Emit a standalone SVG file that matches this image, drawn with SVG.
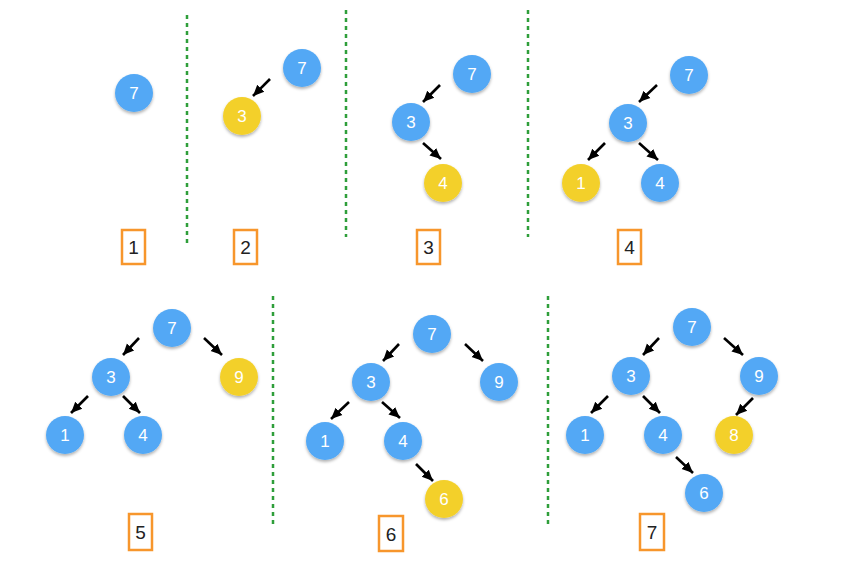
<svg xmlns="http://www.w3.org/2000/svg" width="867" height="578" viewBox="0 0 867 578">
<defs>
<filter id="sh" x="-30%" y="-30%" width="160%" height="170%">
<feDropShadow dx="0" dy="2" stdDeviation="1.5" flood-color="#000" flood-opacity="0.3"/>
</filter>
<marker id="ah" markerUnits="userSpaceOnUse" markerWidth="12" markerHeight="12" viewBox="0 0 12 12" refX="11" refY="6" orient="auto">
<path d="M0,1 L11,6 L0,11 Z" fill="#000"/>
</marker>
<style>
.b{fill:#52A8F5;filter:url(#sh)}
.y{fill:#F3D02B;filter:url(#sh)}
.t{font-family:"Liberation Sans",Arial,sans-serif;font-size:17px;fill:#fff;text-anchor:middle}
.e{stroke:#000;stroke-width:2.6;fill:none;marker-end:url(#ah)}
.d{stroke:#2E9E3A;stroke-width:2.5;stroke-dasharray:4 4;fill:none}
.bx{fill:#fff;stroke:#F7962C;stroke-width:2.5}
.l{font-family:"Liberation Sans",Arial,sans-serif;font-size:19px;fill:#222;text-anchor:middle}
</style>
</defs>
<rect width="867" height="578" fill="#fff"/>
<g id="dividers">
<line class="d" x1="187" y1="15" x2="187" y2="243"/>
<line class="d" x1="346" y1="10" x2="346" y2="237"/>
<line class="d" x1="528" y1="10" x2="528" y2="237"/>
<line class="d" x1="273" y1="296" x2="273" y2="525"/>
<line class="d" x1="548" y1="296" x2="548" y2="525"/>
</g>
<g id="connectors">
<line class="e" x1="270" y1="79" x2="253" y2="96"/>
<line class="e" x1="440" y1="85" x2="423" y2="102"/>
<line class="e" x1="423" y1="143" x2="441" y2="159"/>
<line class="e" x1="657" y1="85" x2="639" y2="102"/>
<line class="e" x1="605" y1="143" x2="588" y2="160"/>
<line class="e" x1="639" y1="143" x2="658" y2="160"/>
<line class="e" x1="139" y1="338" x2="123" y2="355"/>
<line class="e" x1="204" y1="338" x2="222" y2="355"/>
<line class="e" x1="88" y1="396" x2="71" y2="413"/>
<line class="e" x1="123" y1="396" x2="140" y2="413"/>
<line class="e" x1="399" y1="344" x2="383" y2="361"/>
<line class="e" x1="465" y1="344" x2="483" y2="361"/>
<line class="e" x1="349" y1="402" x2="331" y2="419"/>
<line class="e" x1="382" y1="402" x2="400" y2="418"/>
<line class="e" x1="416" y1="464" x2="433" y2="481"/>
<line class="e" x1="659" y1="338" x2="643" y2="355"/>
<line class="e" x1="724" y1="338" x2="743" y2="355"/>
<line class="e" x1="608" y1="396" x2="591" y2="413"/>
<line class="e" x1="643" y1="396" x2="660" y2="413"/>
<line class="e" x1="753" y1="398" x2="736" y2="415"/>
<line class="e" x1="676" y1="457" x2="693" y2="473"/>
</g>
<g id="p1n7"><circle class="b" cx="134" cy="93" r="19"/><text class="t" x="134" y="99">7</text></g>
<g id="p2n7"><circle class="b" cx="302" cy="68" r="19"/><text class="t" x="302" y="74">7</text></g>
<g id="p2n3"><circle class="y" cx="242" cy="116" r="19"/><text class="t" x="242" y="122">3</text></g>
<g id="p3n7"><circle class="b" cx="472" cy="74" r="19"/><text class="t" x="472" y="80">7</text></g>
<g id="p3n3"><circle class="b" cx="411" cy="122" r="19"/><text class="t" x="411" y="128">3</text></g>
<g id="p3n4"><circle class="y" cx="443" cy="183" r="19"/><text class="t" x="443" y="189">4</text></g>
<g id="p4n7"><circle class="b" cx="689" cy="75" r="19"/><text class="t" x="689" y="81">7</text></g>
<g id="p4n3"><circle class="b" cx="628" cy="123" r="19"/><text class="t" x="628" y="129">3</text></g>
<g id="p4n1"><circle class="y" cx="581" cy="183" r="19"/><text class="t" x="581" y="189">1</text></g>
<g id="p4n4"><circle class="b" cx="660" cy="183" r="19"/><text class="t" x="660" y="189">4</text></g>
<g id="p5n7"><circle class="b" cx="172" cy="328" r="19"/><text class="t" x="172" y="334">7</text></g>
<g id="p5n3"><circle class="b" cx="111" cy="377" r="19"/><text class="t" x="111" y="383">3</text></g>
<g id="p5n9"><circle class="y" cx="239" cy="377" r="19"/><text class="t" x="239" y="383">9</text></g>
<g id="p5n1"><circle class="b" cx="65" cy="435" r="19"/><text class="t" x="65" y="441">1</text></g>
<g id="p5n4"><circle class="b" cx="143" cy="435" r="19"/><text class="t" x="143" y="441">4</text></g>
<g id="p6n7"><circle class="b" cx="432" cy="334" r="19"/><text class="t" x="432" y="340">7</text></g>
<g id="p6n3"><circle class="b" cx="371" cy="382" r="19"/><text class="t" x="371" y="388">3</text></g>
<g id="p6n9"><circle class="b" cx="499" cy="382" r="19"/><text class="t" x="499" y="388">9</text></g>
<g id="p6n1"><circle class="b" cx="325" cy="441" r="19"/><text class="t" x="325" y="447">1</text></g>
<g id="p6n4"><circle class="b" cx="403" cy="441" r="19"/><text class="t" x="403" y="447">4</text></g>
<g id="p6n6"><circle class="y" cx="444" cy="499" r="19"/><text class="t" x="444" y="505">6</text></g>
<g id="p7n7"><circle class="b" cx="692" cy="327" r="19"/><text class="t" x="692" y="333">7</text></g>
<g id="p7n3"><circle class="b" cx="631" cy="376" r="19"/><text class="t" x="631" y="382">3</text></g>
<g id="p7n9"><circle class="b" cx="759" cy="376" r="19"/><text class="t" x="759" y="382">9</text></g>
<g id="p7n1"><circle class="b" cx="585" cy="435" r="19"/><text class="t" x="585" y="441">1</text></g>
<g id="p7n4"><circle class="b" cx="663" cy="435" r="19"/><text class="t" x="663" y="441">4</text></g>
<g id="p7n8"><circle class="y" cx="734" cy="435" r="19"/><text class="t" x="734" y="441">8</text></g>
<g id="p7n6"><circle class="b" cx="704" cy="493" r="19"/><text class="t" x="704" y="499">6</text></g>
<g id="label1"><rect class="bx" x="122" y="230" width="23" height="34"/><text class="l" x="133.5" y="254">1</text></g>
<g id="label2"><rect class="bx" x="234" y="230" width="23" height="34"/><text class="l" x="245.5" y="254">2</text></g>
<g id="label3"><rect class="bx" x="417" y="230" width="23" height="34"/><text class="l" x="428.5" y="254">3</text></g>
<g id="label4"><rect class="bx" x="618" y="230" width="23" height="34"/><text class="l" x="629.5" y="254">4</text></g>
<g id="label5"><rect class="bx" x="129" y="514" width="23" height="36"/><text class="l" x="140.5" y="539">5</text></g>
<g id="label6"><rect class="bx" x="379" y="516" width="24" height="35"/><text class="l" x="391" y="541">6</text></g>
<g id="label7"><rect class="bx" x="640" y="514" width="24" height="36"/><text class="l" x="652" y="539">7</text></g>
</svg>
